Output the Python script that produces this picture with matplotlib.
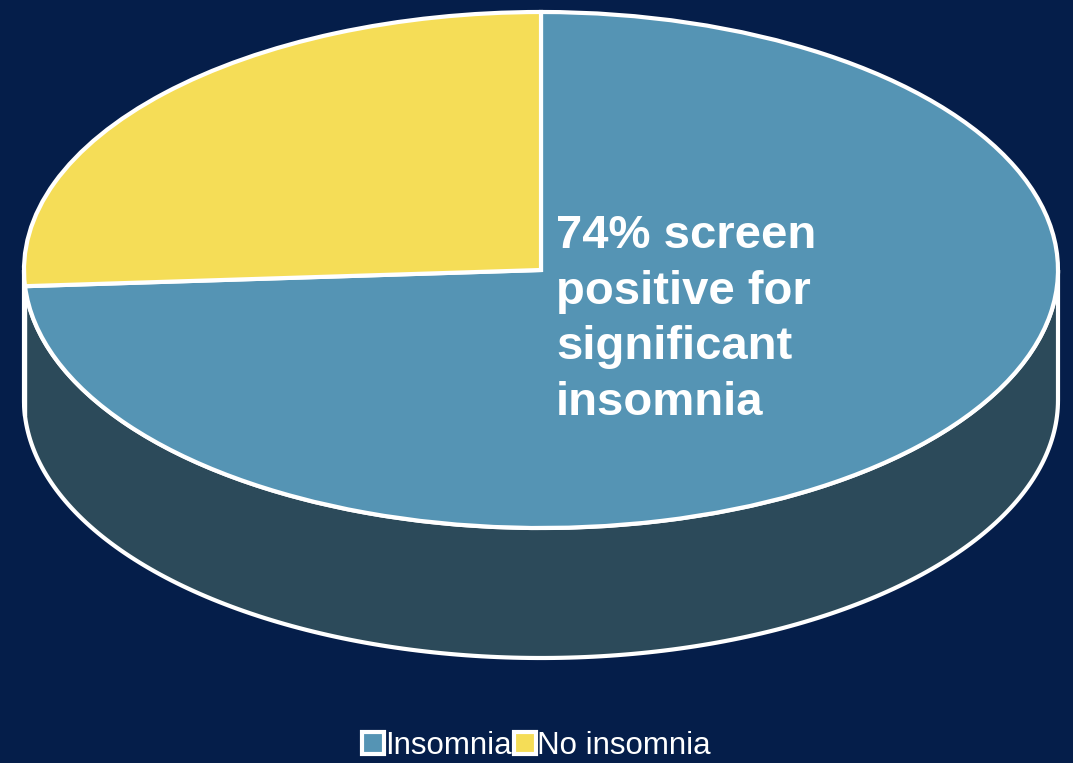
import numpy as np
import matplotlib.pyplot as plt
from matplotlib.patches import Polygon

# dados do gráfico
categorias = ['Insomnia', 'No insomnia']
valores = [74, 26]
cores = ['#5594B4', '#F5DD57']
cores_lado = ['#2C4A5A', '#8A7A30']
rotulo = '74% screen\npositive for\nsignificant\ninsomnia'

fundo = '#051E4A'
W, H = 1073, 763
cx, cy = 541, 270      # centro da elipse (pixels, a partir do topo)
rx, ry = 517, 258      # raios da elipse
prof = 130 / ry        # espessura da "pizza" em unidades do raio

fig = plt.figure(figsize=(W / 100, H / 100), dpi=100, facecolor=fundo)
ax = fig.add_axes([0, 0, 1, 1])
ax.set_facecolor(fundo)

# tampa da pizza
wedges, _ = ax.pie(valores, colors=cores, startangle=90, counterclock=False,
                   wedgeprops=dict(edgecolor='white', linewidth=3, zorder=3))

# lateral: só a metade da frente (180 a 360 graus) aparece
total = sum(valores)
inicio = 90.0
for v, c in zip(valores, cores_lado):
    fim = inicio - 360.0 * v / total
    a0, a1 = fim % 360, inicio % 360
    if a1 <= a0:
        a1 += 360
    lo, hi = max(a0, 180), min(a1, 360)
    if hi > lo:
        t = np.radians(np.linspace(lo, hi, 200))
        cima = np.column_stack([np.cos(t), np.sin(t)])
        baixo = np.column_stack([np.cos(t[::-1]), np.sin(t[::-1]) - prof])
        ax.add_patch(Polygon(np.vstack([cima, baixo]), closed=True, facecolor=c,
                             edgecolor='white', linewidth=3, zorder=2))
    inicio = fim

ax.set_aspect('auto')
ax.set_xlim(-cx / rx, (W - cx) / rx)
ax.set_ylim(-(H - cy) / ry, cy / ry)
ax.axis('off')

ax.text((556 - cx) / rx, (cy - 214) / ry, rotulo, color='white', fontsize=34,
        fontweight='bold', family='Liberation Sans', va='top', ha='left',
        linespacing=1.34, zorder=5)

leg = fig.legend(wedges, categorias, loc='center', bbox_to_anchor=(0.5, 0.022),
                 ncol=2, frameon=False, handlelength=0.7, handleheight=0.7,
                 handletextpad=0.05, columnspacing=0.05,
                 prop={'family': 'Liberation Sans', 'size': 22.5})
for t in leg.get_texts():
    t.set_color('white')

fig.savefig('out.png', dpi=100, facecolor=fundo)
